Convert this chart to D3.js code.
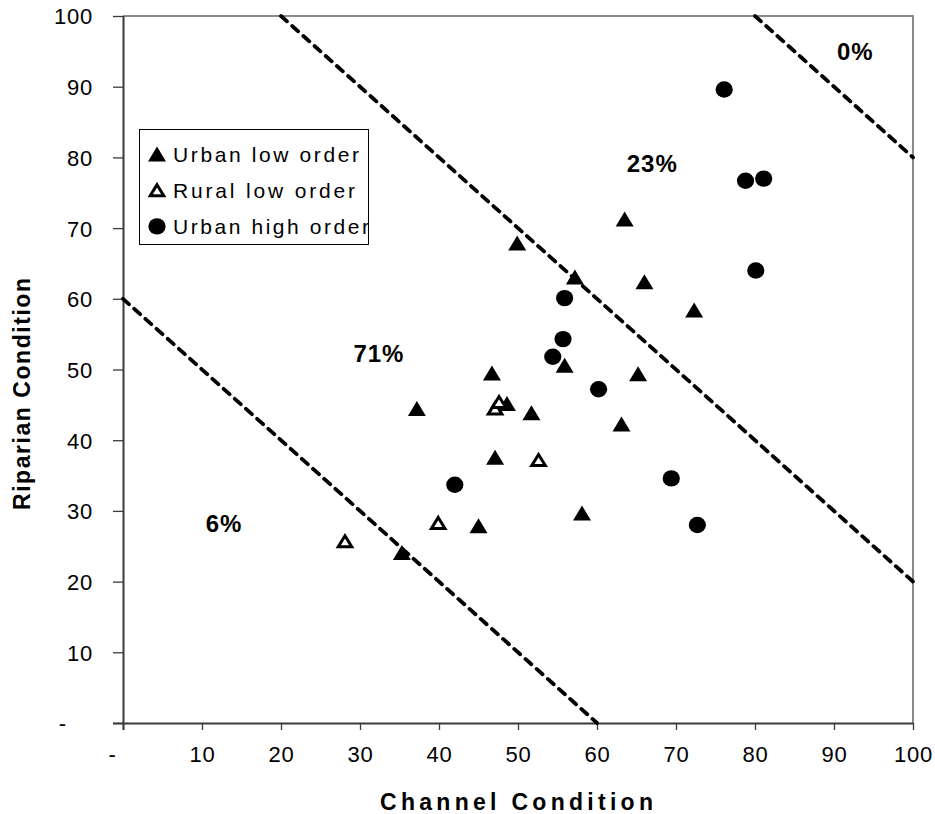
<!DOCTYPE html>
<html>
<head>
<meta charset="utf-8">
<script src="https://cdn.jsdelivr.net/npm/d3@7"></script>
<style>
  html, body { margin: 0; padding: 0; background: #fff; }
  svg { display: block; font-family: "Liberation Sans", Arial, sans-serif; }
</style>
</head>
<body>
<svg id="chart" width="935" height="814"></svg>
<script>
// Channel vs riparian condition scores for each site, by site class
const urbanLowOrder = [
  [37.2, 44.5], [57.2, 63.1], [66.0, 62.4], [46.7, 49.5], [55.9, 50.6],
  [65.2, 49.4], [48.6, 45.2], [51.7, 43.9], [63.1, 42.3], [47.1, 37.6],
  [58.1, 29.7], [45.0, 27.9], [63.5, 71.3], [49.9, 67.9], [72.3, 58.4],
  [35.3, 24.1]
];
const ruralLowOrder = [
  [47.1, 44.5], [47.6, 45.4], [52.6, 37.2], [39.9, 28.3], [28.1, 25.7]
];
const urbanHighOrder = [
  [76.1, 89.6], [78.8, 76.7], [81.1, 77.0], [80.1, 64.0], [55.9, 60.1],
  [55.7, 54.3], [54.4, 51.8], [60.2, 47.2], [42.0, 33.7], [69.4, 34.6],
  [72.7, 28.0]
];

// Class boundaries: channel + riparian = constant
const boundarySums = [60, 120, 180];

// Share of sites falling in each band, anchored in data units
const bandShares = ["0%", "23%", "71%", "6%"];
const bandAnchors = [[92.7, 95.0], [67.0, 79.2], [32.4, 52.3], [12.8, 28.3]];

const tickValues = [0, 10, 20, 30, 40, 50, 60, 70, 80, 90, 100];
const tickLabels = ["-", "10", "20", "30", "40", "50", "60", "70", "80", "90", "100"];

const legendNames = ["Urban low order", "Rural low order", "Urban high order"];

const svg = d3.select("#chart");
const plotL = 123, plotR = 913, plotT = 16, plotB = 723;

const x = d3.scaleLinear().domain([0, 100]).range([plotL, plotR]);
const y = d3.scaleLinear().domain([0, 100]).range([plotB, plotT]);

// Frame: gray top/right border
svg.append("path")
  .attr("d", `M${plotL},${plotT}H${plotR}V${plotB}`)
  .attr("fill", "none").attr("stroke", "#8c8c8c").attr("stroke-width", 2);

// Axes
const fmt = (d, i) => tickLabels[i];
const xAxis = svg.append("g").attr("transform", `translate(0,${plotB})`)
  .call(d3.axisBottom(x).tickValues(tickValues).tickFormat(fmt).tickSize(7).tickSizeOuter(0));
const yAxis = svg.append("g").attr("transform", `translate(${plotL},0)`)
  .call(d3.axisLeft(y).tickValues(tickValues).tickFormat(fmt).tickSize(10).tickSizeOuter(0));

[xAxis, yAxis].forEach(g => {
  g.select(".domain").attr("stroke", "#3a3a3a").attr("stroke-width", 2);
  g.selectAll(".tick line").attr("stroke", "#3a3a3a").attr("stroke-width", 1.3);
  g.selectAll(".tick text")
    .attr("fill", "#000").attr("font-size", 22).attr("letter-spacing", 0.8)
    .attr("font-family", "Liberation Sans, Arial, sans-serif");
});
xAxis.select(".domain").attr("d", `M${plotL - 10},0.5H${plotR}`);
yAxis.select(".domain").attr("d", `M0.5,${plotB + 7}V${plotT}`);
xAxis.selectAll(".tick text").attr("y", 23).attr("dy", "0.71em")
  .attr("dx", (d, i) => i === 0 ? -11 : 0);
yAxis.selectAll(".tick text").attr("x", -30).attr("dy", "0.36em")
  .attr("dx", (d, i) => i === 0 ? -26 : 0);

// Boundary lines clipped to the plot square
const clip = s => {
  const x0 = Math.max(0, s - 100), x1 = Math.min(100, s);
  return [[x0, s - x0], [x1, s - x1]];
};
svg.append("g").selectAll("path").data(boundarySums).join("path")
  .attr("d", s => d3.line().x(p => x(p[0])).y(p => y(p[1]))(clip(s)))
  .attr("fill", "none").attr("stroke", "#000").attr("stroke-width", 3.8)
  .attr("stroke-linecap", "round").attr("stroke-dasharray", "8,7");

// Band share labels
svg.append("g").selectAll("text").data(bandShares).join("text")
  .attr("x", (d, i) => x(bandAnchors[i][0]))
  .attr("y", (d, i) => y(bandAnchors[i][1]))
  .attr("dy", "0.36em").attr("text-anchor", "middle")
  .attr("font-size", 24).attr("letter-spacing", 1)
  .attr("font-weight", "bold").text(d => d);

// Marker shapes
const triPath = (w, h) => `M0,${-h / 2}L${w / 2},${h / 2}L${-w / 2},${h / 2}Z`;

function drawFilledTri(g, cx, cy) {
  g.append("path").attr("transform", `translate(${cx},${cy})`)
    .attr("d", triPath(18, 15)).attr("fill", "#000");
}
function drawOpenTri(g, cx, cy) {
  g.append("path").attr("transform", `translate(${cx},${cy})`)
    .attr("d", triPath(13.5, 11)).attr("fill", "#fff")
    .attr("stroke", "#000").attr("stroke-width", 3).attr("stroke-linejoin", "miter");
}
function drawDot(g, cx, cy) {
  g.append("ellipse").attr("cx", cx).attr("cy", cy)
    .attr("rx", 8.6).attr("ry", 8.2).attr("fill", "#000");
}

const marks = svg.append("g");
urbanHighOrder.forEach(d => drawDot(marks, x(d[0]), y(d[1])));
urbanLowOrder.forEach(d => drawFilledTri(marks, x(d[0]), y(d[1])));
ruralLowOrder.forEach(d => drawOpenTri(marks, x(d[0]), y(d[1])));

// Legend
const lg = svg.append("g");
lg.append("rect").attr("x", 139.5).attr("y", 129.5).attr("width", 229).attr("height", 115)
  .attr("fill", "#fff").attr("stroke", "#000").attr("stroke-width", 1);
const drawers = [drawFilledTri, drawOpenTri, drawDot];
const textWidths = [186, 182, 196];
legendNames.forEach((name, i) => {
  const cy = 154 + i * 36.2;
  drawers[i](lg, 157, cy);
  lg.append("text").attr("x", 173).attr("y", cy + 8)
    .attr("font-size", 21).attr("textLength", textWidths[i])
    .attr("lengthAdjust", "spacing").text(name);
});

// Axis titles
svg.append("text").attr("x", 380).attr("y", 810)
  .attr("font-size", 23).attr("font-weight", "bold")
  .attr("textLength", 273).attr("lengthAdjust", "spacing")
  .text("Channel Condition");
svg.append("text")
  .attr("transform", "translate(30,510) rotate(-90)")
  .attr("font-size", 23).attr("font-weight", "bold")
  .attr("textLength", 232).attr("lengthAdjust", "spacing")
  .text("Riparian Condition");
</script>
</body>
</html>
